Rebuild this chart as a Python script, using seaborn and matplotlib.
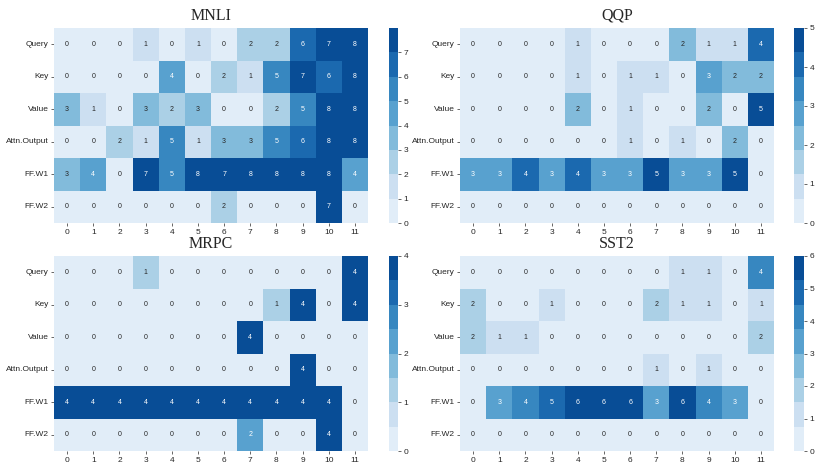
import numpy as np
import pandas as pd
import matplotlib.pyplot as plt
import seaborn as sns

# module rows and layer columns
modules = ["Query", "Key", "Value", "Attn.Output", "FF.W1", "FF.W2"]
layers = list(range(12))

mnli = [
    [0, 0, 0, 1, 0, 1, 0, 2, 2, 6, 7, 8],
    [0, 0, 0, 0, 4, 0, 2, 1, 5, 7, 6, 8],
    [3, 1, 0, 3, 2, 3, 0, 0, 2, 5, 8, 8],
    [0, 0, 2, 1, 5, 1, 3, 3, 5, 6, 8, 8],
    [3, 4, 0, 7, 5, 8, 7, 8, 8, 8, 8, 4],
    [0, 0, 0, 0, 0, 0, 2, 0, 0, 0, 7, 0],
]
qqp = [
    [0, 0, 0, 0, 1, 0, 0, 0, 2, 1, 1, 4],
    [0, 0, 0, 0, 1, 0, 1, 1, 0, 3, 2, 2],
    [0, 0, 0, 0, 2, 0, 1, 0, 0, 2, 0, 5],
    [0, 0, 0, 0, 0, 0, 1, 0, 1, 0, 2, 0],
    [3, 3, 4, 3, 4, 3, 3, 5, 3, 3, 5, 0],
    [0, 0, 0, 0, 0, 0, 0, 0, 0, 0, 0, 0],
]
mrpc = [
    [0, 0, 0, 1, 0, 0, 0, 0, 0, 0, 0, 4],
    [0, 0, 0, 0, 0, 0, 0, 0, 1, 4, 0, 4],
    [0, 0, 0, 0, 0, 0, 0, 4, 0, 0, 0, 0],
    [0, 0, 0, 0, 0, 0, 0, 0, 0, 4, 0, 0],
    [4, 4, 4, 4, 4, 4, 4, 4, 4, 4, 4, 0],
    [0, 0, 0, 0, 0, 0, 0, 2, 0, 0, 4, 0],
]
sst2 = [
    [0, 0, 0, 0, 0, 0, 0, 0, 1, 1, 0, 4],
    [2, 0, 0, 1, 0, 0, 0, 2, 1, 1, 0, 1],
    [2, 1, 1, 0, 0, 0, 0, 0, 0, 0, 0, 2],
    [0, 0, 0, 0, 0, 0, 0, 1, 0, 1, 0, 0],
    [0, 3, 4, 5, 6, 6, 6, 3, 6, 4, 3, 0],
    [0, 0, 0, 0, 0, 0, 0, 0, 0, 0, 0, 0],
]

titles = ["MNLI", "QQP", "MRPC", "SST2"]
cbar_ticks = [list(range(0, 8)), list(range(0, 6)), list(range(0, 5)), list(range(0, 7))]

sns.set_theme(style="white")
plt.rcParams['font.family'] = ['Liberation Sans', 'DejaVu Sans']

fig = plt.figure(figsize=(8.3, 4.67), dpi=100)

W, H = 830, 467
# pixel boxes: (heatmap left, cbar left, cbar width, top)
boxes = [(54, 389, 9, 28), (460, 794, 10, 28), (54, 389, 9, 256), (460, 794, 10, 256)]
cmap = sns.color_palette("Blues", 8)

for data, title, ticks, (hx, cx, cw, top) in zip([mnli, qqp, mrpc, sst2], titles, cbar_ticks, boxes):
    df = pd.DataFrame(data, index=modules, columns=layers)
    ax = fig.add_axes([hx / W, 1 - (top + 195) / H, 314 / W, 195 / H])
    cax = fig.add_axes([cx / W, 1 - (top + 195) / H, cw / W, 195 / H])
    sns.heatmap(df, ax=ax, cbar_ax=cax, cmap=cmap, annot=True, fmt="d",
                vmin=0, vmax=df.values.max(), annot_kws={"size": 5})
    ax.set_title(title, fontsize=11.5, family="Liberation Serif", pad=6)
    ax.tick_params(axis="both", labelsize=6, length=2.5, width=0.6, pad=1.5,
                   bottom=True, left=True, color=".3")
    ax.set_yticklabels(modules, rotation=0)
    ax.set_xticklabels(layers, rotation=0)
    cax.set_yticks(ticks)
    cax.tick_params(labelsize=6, length=2.5, width=0.6, pad=1.5, right=True, color=".3")

plt.savefig("out.png", dpi=100)
